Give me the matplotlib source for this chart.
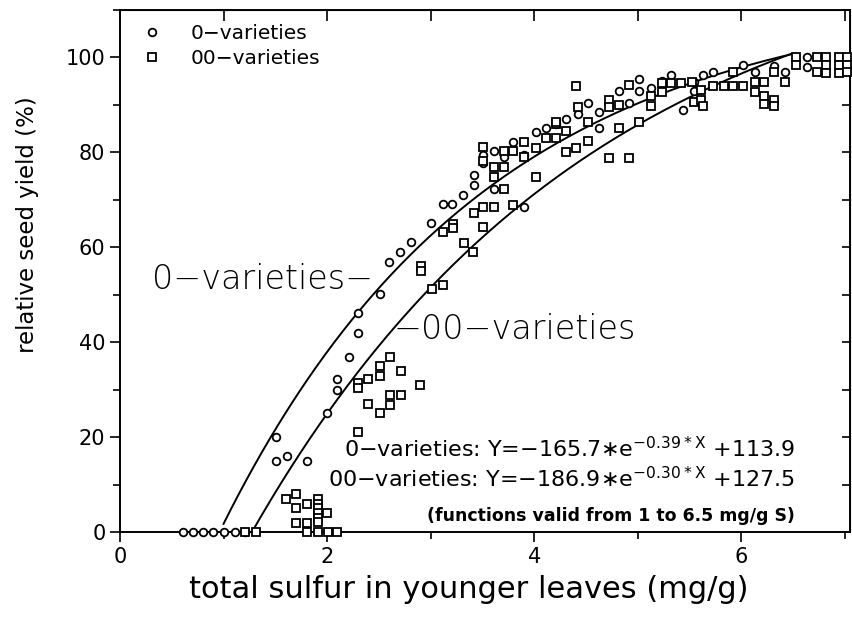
import numpy as np
import matplotlib
matplotlib.use("Agg")
import matplotlib.pyplot as plt
from matplotlib.ticker import MultipleLocator

# 0-varieties (circles)
x_o = [0.61, 0.71, 0.80, 0.90, 1.00, 1.11, 1.21,
       1.51, 1.51, 1.61, 1.81, 2.00, 2.10, 2.10, 2.21, 2.30, 2.30,
       2.51, 2.60, 2.70, 2.81, 3.00, 3.12, 3.21, 3.31, 3.42, 3.42,
       3.51, 3.51, 3.61, 3.61, 3.71, 3.80, 3.90, 3.90, 4.02, 4.11,
       4.21, 4.31, 4.42, 4.52, 4.63, 4.63, 4.72, 4.82, 4.92, 5.01,
       5.01, 5.13, 5.23, 5.32, 5.44, 5.54, 5.54, 5.63, 5.73, 6.02,
       6.13, 6.32, 6.42, 6.63, 6.63]
y_o = [0, 0, 0, 0, 0, 0, 0,
       20.0, 15.0, 16.0, 15.0, 25.0, 30.0, 32.3, 36.9, 42.0, 46.2,
       50.2, 57.0, 59.1, 61.2, 65.2, 69.2, 69.2, 71.1, 73.2, 75.3,
       77.8, 79.5, 80.2, 72.2, 79.0, 82.1, 68.4, 79.5, 84.2, 85.2,
       86.0, 87.1, 88.0, 90.5, 88.6, 85.2, 90.0, 93.0, 90.5, 95.4,
       93.0, 93.5, 95.0, 96.4, 89.0, 94.9, 93.0, 96.4, 97.0, 98.5,
       97.0, 98.1, 97.0, 100.0, 97.9]

# 00-varieties (squares)
x_s = [1.21, 1.31, 1.81, 1.91, 2.01, 2.10,
       1.60, 1.70, 1.70, 1.81, 1.91, 1.91, 1.91, 1.91, 2.00, 1.70, 1.81, 1.91, 1.91,
       2.30, 2.61, 2.51, 2.51, 2.71, 2.40, 2.30, 2.30, 2.90, 2.61, 2.71, 2.61, 2.40, 2.51,
       2.91, 2.91, 3.01, 3.12, 3.12, 3.22, 3.22, 3.32, 3.41, 3.42, 3.51, 3.61, 3.51,
       3.80, 4.02, 3.51, 3.51, 3.61, 3.71, 3.61, 3.71, 3.71, 3.80, 3.90, 3.90, 4.02,
       4.11, 4.21, 4.21, 4.40, 4.21, 4.31, 4.31, 4.40, 4.52, 4.52, 4.42, 4.72, 4.92,
       4.82, 5.01, 4.72, 4.82, 4.72, 4.92, 5.13, 5.13, 5.23, 5.23, 5.32, 5.42, 5.54,
       5.52, 5.61, 5.61, 5.63, 5.73, 5.83, 5.92, 6.02, 5.92, 6.13, 6.13, 6.22, 6.22,
       6.22, 6.32, 6.32, 6.32, 6.42, 6.53, 6.53, 6.73, 6.73, 6.82, 6.82, 6.82, 6.94,
       6.94, 6.94, 7.02, 7.02, 7.02]
y_s = [0, 0, 0, 0, 0, 0,
       7.0, 8.0, 5.0, 5.9, 7.0, 5.9, 5.0, 4.0, 4.0, 1.9, 1.9, 3.0, 2.0,
       21.1, 36.9, 35.0, 32.9, 34.0, 32.3, 31.4, 30.4, 31.0, 28.9, 28.9, 26.8, 27.0, 25.1,
       56.0, 55.0, 51.3, 52.1, 63.3, 64.8, 64.0, 61.0, 59.1, 67.3, 68.4, 68.4, 64.3,
       69.0, 74.9, 81.2, 78.1, 77.0, 77.0, 74.9, 72.2, 80.2, 80.2, 82.1, 79.1, 81.0,
       83.0, 85.9, 83.1, 93.9, 86.3, 84.4, 80.0, 81.0, 82.3, 86.3, 89.5, 78.9, 78.9,
       85.2, 86.3, 91.1, 90.0, 89.5, 94.3, 91.8, 89.7, 94.7, 92.8, 94.7, 94.7, 90.7,
       94.9, 93.2, 91.1, 89.7, 93.9, 93.9, 93.9, 93.9, 97.0, 94.9, 92.8, 94.9, 91.8,
       90.1, 91.1, 89.7, 97.0, 94.9, 100.0, 98.5, 100.0, 97.0, 100.0, 98.5, 96.8, 100.0,
       98.5, 96.8, 100.0, 98.5, 97.0]

# fitted functions printed on the chart: Y = a*exp(b*x) + c, valid 1..6.5
fit_o = (-165.7, -0.39, 113.9)
fit_s = (-186.9, -0.30, 127.5)
fit_range = (1.0, 6.5)

fig = plt.figure(figsize=(8.52, 6.26), dpi=100)
ax = fig.add_axes([0.1408, 0.1502, 0.8569, 0.8338])

xx = np.linspace(fit_range[0], fit_range[1], 300)
for a, b, c in (fit_o, fit_s):
    yy = a * np.exp(b * xx) + c
    m = yy >= 0
    ax.plot(xx[m], yy[m], color="black", lw=1.4)

ax.plot(x_o, y_o, "o", ms=5.5, mfc="white", mec="black", mew=1.3,
        clip_on=False, label="0\u2212varieties", zorder=3)
ax.plot(x_s, y_s, "s", ms=6, mfc="white", mec="black", mew=1.3,
        clip_on=False, label="00\u2212varieties", zorder=3)

ax.set_xlim(0, 7.05)
ax.set_ylim(0, 110)
ax.xaxis.set_major_locator(MultipleLocator(2))
ax.xaxis.set_minor_locator(MultipleLocator(1))
ax.yaxis.set_minor_locator(MultipleLocator(10))
ax.set_yticks([0, 20, 40, 60, 80, 100])
ax.tick_params(which="both", direction="out", labelsize=15, width=1.2)
ax.tick_params(which="major", length=7)
ax.tick_params(which="minor", length=5)
for s in ax.spines.values():
    s.set_linewidth(1.4)

top = ax.secondary_xaxis("top")
top.xaxis.set_major_locator(MultipleLocator(1))
top.tick_params(direction="in", length=8, width=1.2, labeltop=False)
right = ax.secondary_yaxis("right")
right.yaxis.set_major_locator(MultipleLocator(10))
right.tick_params(direction="in", length=6, width=1.2, labelright=False)

ax.set_xlabel("total sulfur in younger leaves (mg/g)", fontsize=22)
ax.xaxis.set_label_coords(0.478, -0.111)
ax.xaxis.label.set_va("center")
ax.set_ylabel("relative seed yield (%)", fontsize=16.5)
ax.yaxis.set_label_coords(-0.126, 0.588)
ax.yaxis.label.set_va("center")

ax.legend(loc="upper left", bbox_to_anchor=(-0.008, 1.008), frameon=False,
          fontsize=14.5, handletextpad=0.9, labelspacing=0.3, borderpad=0.4)

ax.text(0.31, 53.2, "0\u2212varieties\u2212", fontsize=24, fontweight="light",
        va="center", ha="left")
ax.text(2.64, 42.6, "\u221200\u2212varieties", fontsize=24, fontweight="light",
        va="center", ha="left")

ax.text(6.52, 17.5, "0\u2212varieties: Y=\u2212165.7\u2217e$^{\\mathregular{-0.39*X}}$ +113.9",
        fontsize=16, ha="right", va="center")
ax.text(6.52, 11.2, "00\u2212varieties: Y=\u2212186.9\u2217e$^{\\mathregular{-0.30*X}}$ +127.5",
        fontsize=16, ha="right", va="center")
ax.text(6.52, 3.3, "(functions valid from 1 to 6.5 mg/g S)", fontsize=12.5,
        fontweight="bold", ha="right", va="center")

fig.savefig("out.png", dpi=100)
